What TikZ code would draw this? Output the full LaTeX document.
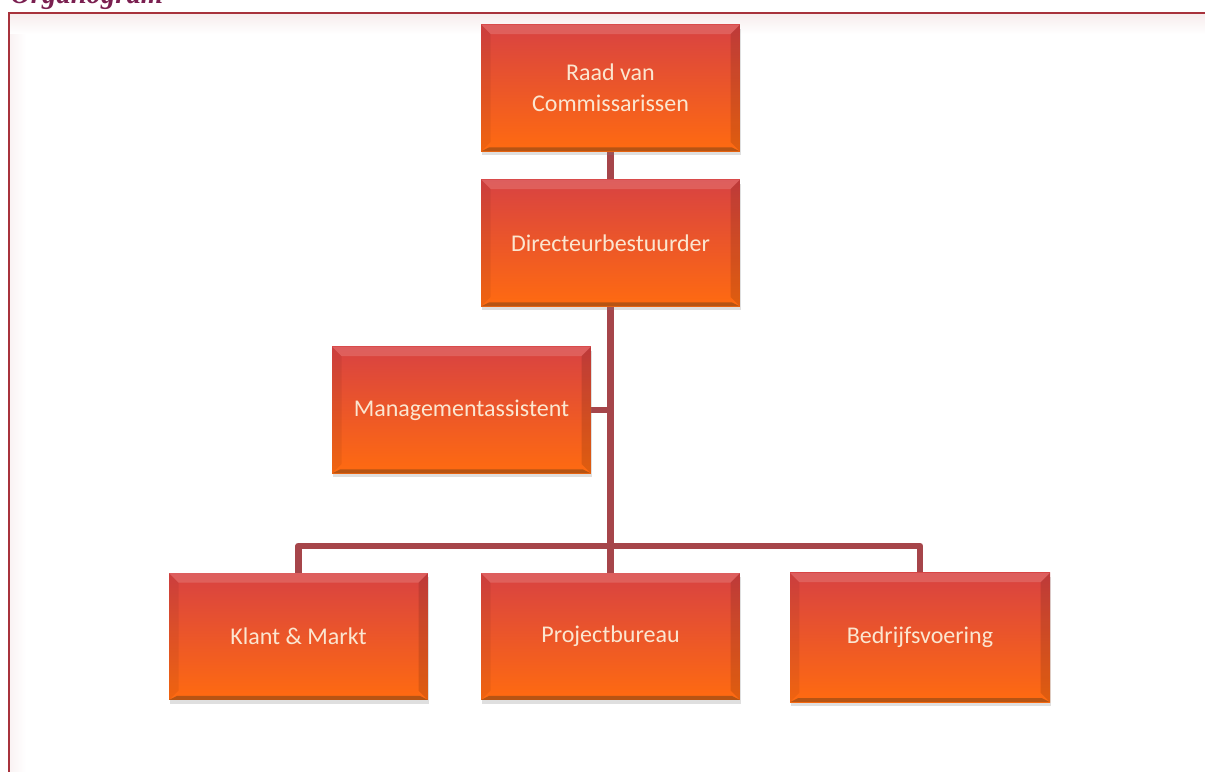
\documentclass[tikz,border=0pt]{standalone}
\usepackage{fontspec}
\setmainfont{Carlito}
\newfontfamily\titlefont{Liberation Serif}
\usetikzlibrary{shadows}
\usetikzlibrary{backgrounds}
\usetikzlibrary{positioning}
\definecolor{boxtop}{HTML}{D84242}
\definecolor{boxmid}{HTML}{E4512F}
\definecolor{boxbot}{HTML}{FF6B10}
\definecolor{conncol}{HTML}{A6454A}
\definecolor{framecol}{HTML}{A8323C}
\definecolor{titlecol}{HTML}{7A1F50}
\definecolor{boxtext}{HTML}{FBE6D0}
\tikzset{bevel/.style = {path picture = {
    \path (path picture bounding box.north west) coordinate (nw)
          (path picture bounding box.north east) coordinate (ne)
          (path picture bounding box.south west) coordinate (sw)
          (path picture bounding box.south east) coordinate (se);
    \fill [white, opacity = .15] (nw) -- (ne) -- ([shift = {(-7pt,-7pt)}]ne) -- ([shift = {(7pt,-7pt)}]nw) -- cycle;
    \fill [black, opacity = .12] (ne) -- (se) -- ([shift = {(-7pt,7pt)}]se) -- ([shift = {(-7pt,-7pt)}]ne) -- cycle;
    \fill [black, opacity = .06] (nw) -- (sw) -- ([shift = {(7pt,7pt)}]sw) -- ([shift = {(7pt,-7pt)}]nw) -- cycle;
    \fill [black!60!brown, opacity = .4] (sw) -- (se) -- ([shift = {(-6pt,3pt)}]se) -- ([shift = {(6pt,3pt)}]sw) -- cycle;
}}}
\tikzset{orgbox/.style = {rectangle, bevel, minimum width = 194pt, minimum height = 95pt,
    top color = boxtop, middle color = boxmid, bottom color = boxbot,
    drop shadow = {opacity = .25, shadow xshift = .5pt, shadow yshift = -3pt},
    text = boxtext, align = center, font = \fontsize{18}{23}\selectfont}}
\tikzset{conn/.style = {draw = conncol, line width = 5pt, line join = round}}

\begin{document}
\begin{tikzpicture}[x = 0.75pt, y = -0.75pt]
    \useasboundingbox (0,0) rectangle (1205,771);
    \node [anchor = base west, inner sep = 0, text = titlecol,
           font = \titlefont\bfseries\itshape\fontsize{21.5}{21.5}\selectfont] (title) at (10,3) {Organogram};

    \node [orgbox] (raad) at (610.5,88) {Raad van\\Commissarissen};
    \node [orgbox] (dir) at (610.5,243) {Directeurbestuurder};
    \node [orgbox] (mgmt) at (461.5,410) {Managementassistent};
    \node [orgbox] (klant) at (298.5,636.5) {Klant \& Markt};
    \node [orgbox] (proj) at (610.5,636.5) {Projectbureau};
    \node [orgbox, minimum width = 195pt, minimum height = 97pt] (bedr) at (920,637.5) {Bedrijfsvoering};

    \begin{scope}[on background layer]
        % frame of the page
        \shade [top color = framecol!9, bottom color = white] (10,14) rectangle (1205,34);
        \shade [left color = framecol!6, right color = white] (10,34) rectangle (26,771);
        \draw [framecol, line width = 1.5pt] (1215,13) -- (9,13) -- (9,790);
        \coordinate (bus) at (609,546);
        \draw [conn] (raad) -- (dir);
        \draw [conn] (dir) -- (proj);
        \draw [conn] (mgmt.east) -- (mgmt.east -| dir);
        \draw [conn] (klant) |- (bus) -| (bedr);
    \end{scope}
\end{tikzpicture}
\end{document}
